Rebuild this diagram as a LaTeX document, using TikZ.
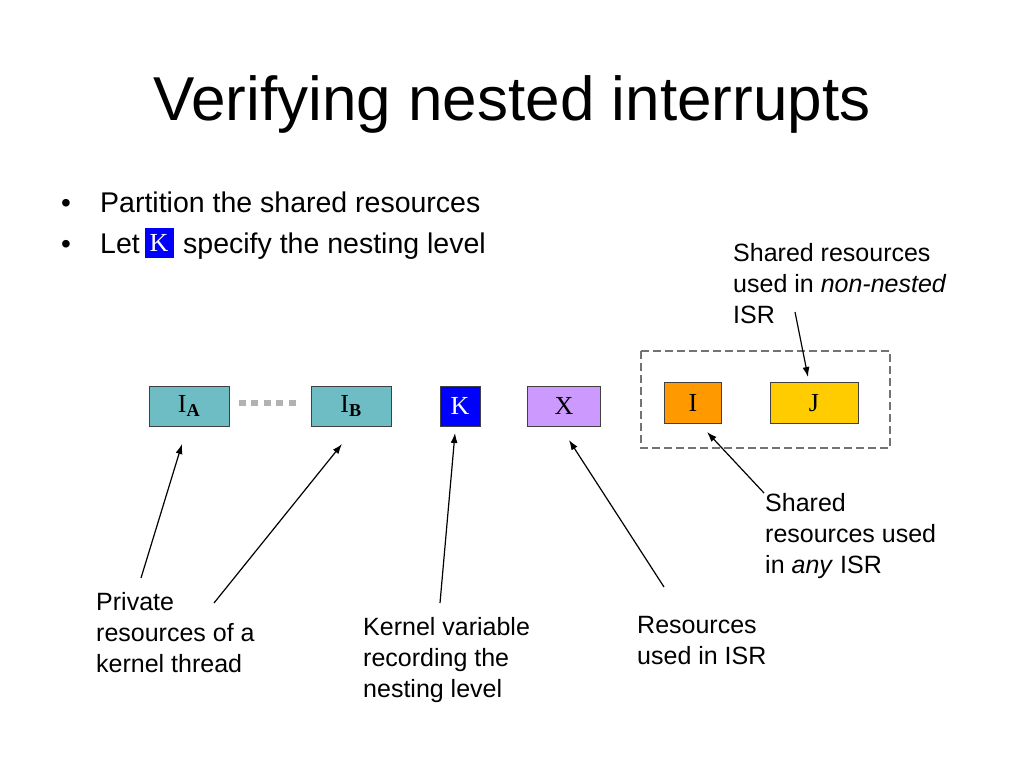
\documentclass[tikz,border=0pt]{standalone}
\usepackage{fontspec}
\usetikzlibrary{arrows.meta}
\setmainfont{Liberation Sans}
\newfontfamily\boxfont{Liberation Serif}
\definecolor{iteal}{RGB}{111,189,196}
\definecolor{kblue}{RGB}{0,0,255}
\definecolor{xlilac}{RGB}{204,153,255}
\definecolor{iorange}{RGB}{255,153,0}
\definecolor{jgold}{RGB}{255,204,0}
\tikzset{res/.style={shape=rectangle, draw=black!75, line width=1pt, inner sep=0,
    font=\boxfont\fontsize{26}{26}\selectfont},
  note/.style={anchor=base west, align=left, inner sep=0, font=\fontsize{25}{31}\selectfont},
  pointer/.style={-{Latex[length=10,width=7]}, line width=1.2pt}}

\begin{document}
\begin{tikzpicture}[x=1pt,y=-1pt]
\useasboundingbox (0,0) rectangle (1024,768);
\node[anchor=base, font=\fontsize{62}{62}\selectfont] (title) at (512,120) {Verifying nested interrupts};
\node[anchor=base, font=\fontsize{28}{28}\selectfont] (dot1) at (66,212) {\textbullet};
\node[anchor=base, font=\fontsize{28}{28}\selectfont] (dot2) at (66,253) {\textbullet};
\node[anchor=base west, inner sep=0, font=\fontsize{28.5}{28.5}\selectfont] (item1) at (100,212) {Partition the shared resources};
\node[anchor=base west, inner sep=0, font=\fontsize{28.5}{28.5}\selectfont] (let) at (100,253) {Let};
\node[res, fill=kblue, draw=none, text=white, minimum width=29, minimum height=30] (kin) at (159,243) {K};
\node[anchor=base west, inner sep=0, font=\fontsize{28.5}{28.5}\selectfont] (item2) at (183,253) {specify the nesting level};

% resources
\node[res, fill=iteal, minimum width=80, minimum height=40] (ia) at (189,406) {I\textsubscript{\textbf{A}}};
\node[res, fill=iteal, minimum width=80, minimum height=40] (ib) at (351,406) {I\textsubscript{\textbf{B}}};
\node[res, fill=kblue, text=white, minimum width=40, minimum height=40] (k) at (460,406) {K};
\node[res, fill=xlilac, minimum width=73, minimum height=40] (x) at (564,406) {X};
\node[res, fill=iorange, minimum width=57, minimum height=41] (i) at (693,403) {I};
\node[res, fill=jgold, minimum width=88, minimum height=41] (j) at (814,403) {J};
\draw[black!30, line width=6, dash pattern=on 7 off 5.5] ([shift={(9,-3)}]ia.east) coordinate (gap1) -- ([shift={(-15,-3)}]ib.west) coordinate (gap2);
\draw[black!55, line width=1.2pt, dash pattern=on 8 off 4] (641,351) rectangle (890,448);

% notes
\node[note] (private) at (96,672) {Private\\resources of a\\kernel thread};
\node[note] (kernel) at (363,697) {Kernel variable\\recording the\\nesting level};
\node[note] (isr) at (637,664) {Resources\\used in ISR};
\node[note] (anyisr) at (765,573) {Shared\\resources used\\in \textit{any} ISR};
\node[note] (nonnested) at (733,323) {Shared resources\\used in \textit{non-nested}\\ISR};

% pointers
\coordinate (p1) at (141,578); \coordinate (q1) at (182,444);
\coordinate (p2) at (214,603); \coordinate (q2) at (342,444);
\coordinate (p3) at (440,603); \coordinate (q3) at (455,433);
\coordinate (p4) at (664,587); \coordinate (q4) at (569,440);
\coordinate (p5) at (764,493); \coordinate (q5) at (707,432);
\coordinate (p6) at (795,312); \coordinate (q6) at (808,377);
\draw[pointer] (p1)--(q1);
\draw[pointer] (p2)--(q2);
\draw[pointer] (p3)--(q3);
\draw[pointer] (p4)--(q4);
\draw[pointer] (p5)--(q5);
\draw[pointer] (p6)--(q6);
\end{tikzpicture}
\end{document}
